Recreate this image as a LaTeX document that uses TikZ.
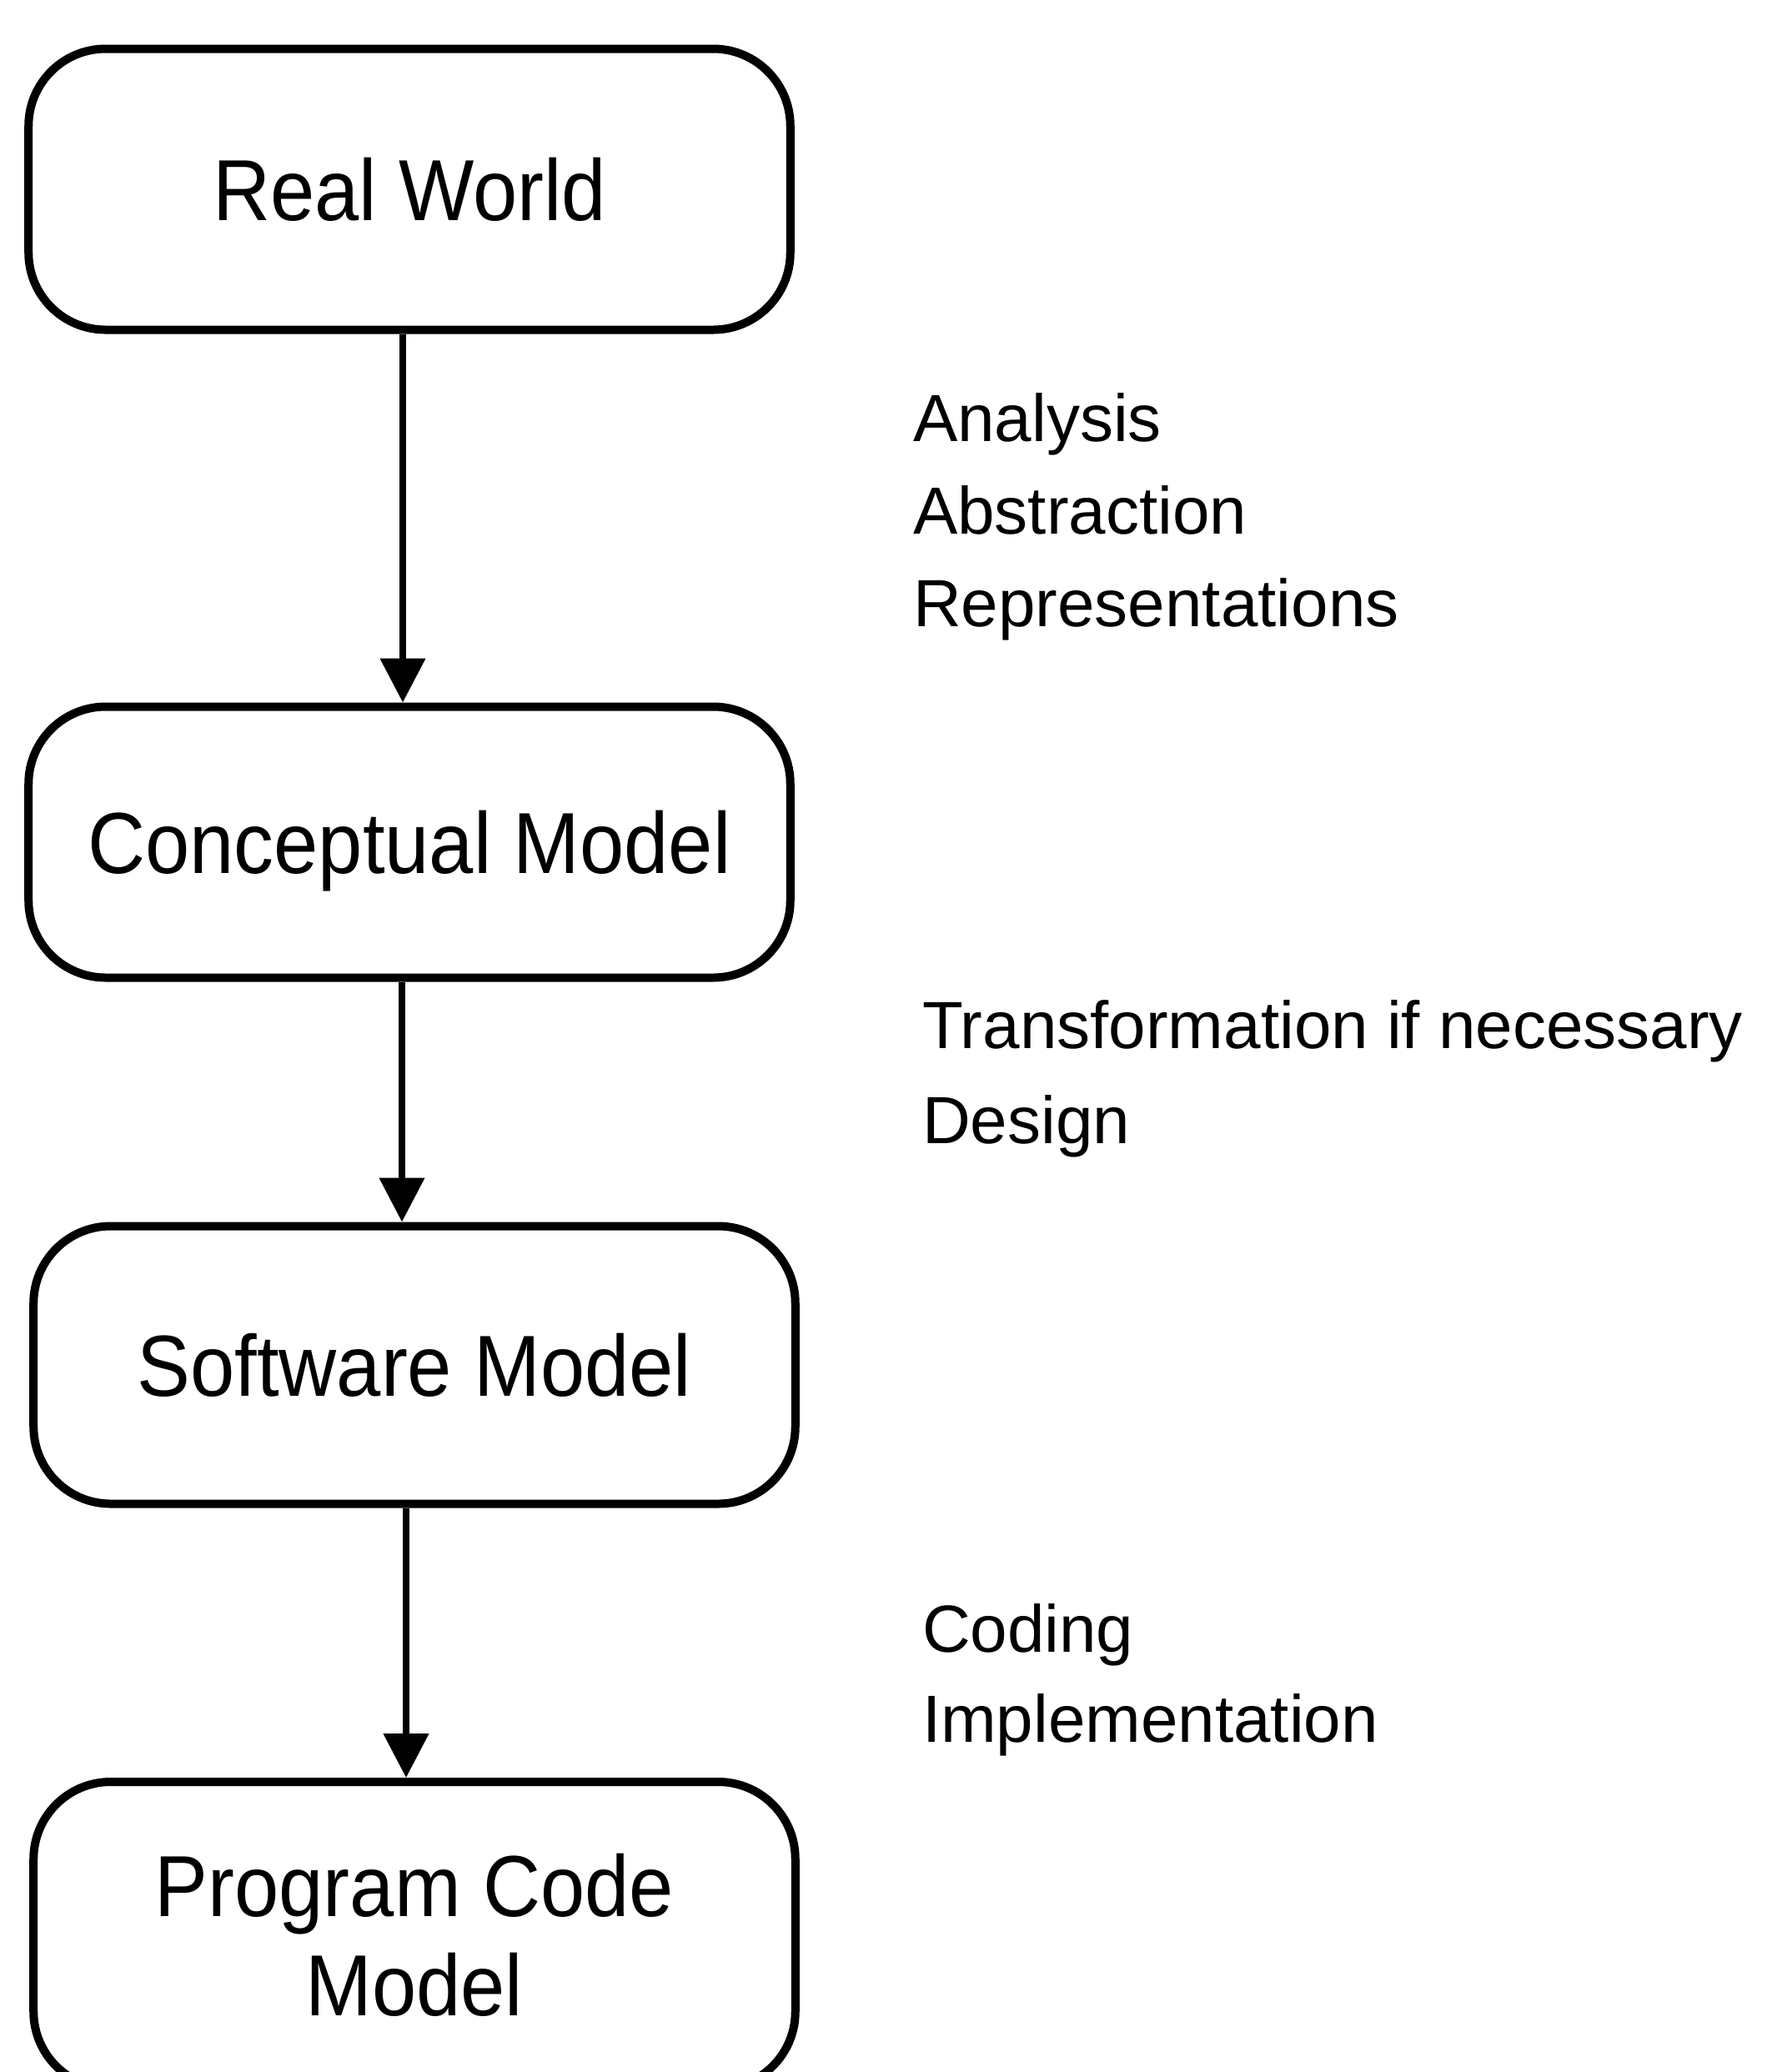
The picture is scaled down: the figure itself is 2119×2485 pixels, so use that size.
\documentclass[tikz,border=0pt]{standalone}
\usepackage{fontspec}
\setmainfont{Liberation Sans}
\newfontfamily\boxfont[FakeStretch=0.92]{Liberation Sans}
\usetikzlibrary{arrows.meta}

\begin{document}
\begin{tikzpicture}[x=0.2pt,y=-0.2pt,
  stage/.style={draw=black, line width=2pt, rounded corners=18.5pt,
    minimum width=182.7pt, inner sep=0pt, align=center,
    font=\boxfont\fontsize{20.8}{23.8}\selectfont},
  oneline/.style={text height=14.9pt, text depth=0pt},
  flow/.style={draw=black, line width=1.6pt,
    -{Triangle[width=10.6pt,length=10.6pt]}},
  note/.style={anchor=base west, inner sep=0pt,
    font=\fontsize{16}{22}\selectfont}]

\useasboundingbox (0,0) rectangle (2119,2485);

% stages of the modelling chain
\node[stage, oneline, minimum height=67.4pt] (rw) at (491,227) {Real World};
\node[stage, oneline, minimum height=65pt]   (cm) at (491,1010) {Conceptual Model};
\node[stage, oneline, minimum height=66.6pt] (sm) at (497,1637) {Software Model};
\node[stage, minimum height=73.6pt]          (pc) at (497,2321) {Program Code\\Model};

% transitions between stages (kept vertical)
\draw[flow] ([xshift=-1.6pt]rw.south) -- ([xshift=-1.6pt]rw.south |- cm.north);
\draw[flow] ([xshift=-1.8pt]cm.south) -- ([xshift=-1.8pt]cm.south |- sm.north);
\draw[flow] ([xshift=-2pt]sm.south)   -- ([xshift=-2pt]sm.south |- pc.north);

% activities for each transition
\node[note] (an1) at (1094,529) {Analysis};
\node[note] (an2) at (1094,640) {Abstraction};
\node[note] (an3) at (1094,751) {Representations};

\node[note] (de1) at (1105,1257) {Transformation if necessary};
\node[note] (de2) at (1105,1371) {Design};

\node[note] (co1) at (1105,1981) {Coding};
\node[note] (co2) at (1105,2089) {Implementation};

\end{tikzpicture}
\end{document}
